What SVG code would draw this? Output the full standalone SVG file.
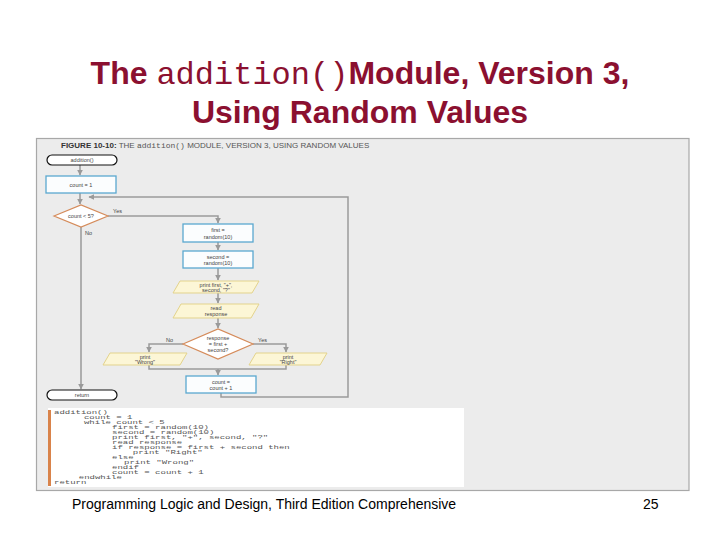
<svg xmlns="http://www.w3.org/2000/svg" width="720" height="540" viewBox="0 0 720 540">
<defs>
<style>
.title{font-family:"Liberation Sans",Arial,sans-serif;font-size:32px;font-weight:bold;fill:#8b1030}
.mono{font-family:"Liberation Mono","Courier New",monospace;font-weight:normal}
.foot{font-family:"Liberation Sans",Arial,sans-serif;font-size:14px;fill:#000}
.t{font-family:"Liberation Sans",Arial,sans-serif;font-size:5.5px;fill:#444;text-anchor:middle}
.lbl{font-family:"Liberation Sans",Arial,sans-serif;font-size:5.5px;fill:#444}
.cap{font-family:"Liberation Sans",Arial,sans-serif;font-size:8px;fill:#555}
.term{fill:#fff;stroke:#111;stroke-width:1.2}
.proc{fill:#fbfdfe;stroke:#5aa8cf;stroke-width:1.3}
.io{fill:#fcf6d6;stroke:#e3d38c;stroke-width:1}
.dec{fill:#fff;stroke:#d58b5a;stroke-width:1.2}
.ln{fill:none;stroke:#9a9a9a;stroke-width:1.5}
.code{font-family:"Liberation Mono","Courier New",monospace;font-size:6px;fill:#555}
</style>
<marker id="ah" viewBox="0 0 10 10" refX="9" refY="5" markerWidth="4" markerHeight="4" orient="auto-start-reverse">
<path d="M0,0 L10,5 L0,10 z" fill="#9a9a9a"/>
</marker>
</defs>
<rect width="720" height="540" fill="#fff"/>
<text class="title" x="360" y="84" text-anchor="middle">The <tspan class="mono">addition()</tspan>Module, Version 3,</text>
<text class="title" x="360" y="123" text-anchor="middle">Using Random Values</text>

<rect x="36.5" y="138.5" width="652.5" height="352" fill="#ececec" stroke="#a8a8a8" stroke-width="1.2"/>
<text class="cap" x="61" y="148"><tspan font-weight="bold" fill="#333">FIGURE 10-10:</tspan> THE <tspan class="mono">addition()</tspan> MODULE, VERSION 3, USING RANDOM VALUES</text>

<g id="connectors">
<line class="ln" x1="80" y1="165" x2="80" y2="175" marker-end="url(#ah)"/>
<line class="ln" x1="80" y1="193" x2="80" y2="204" marker-end="url(#ah)"/>
<polyline class="ln" points="108,216 218,216 218,223" marker-end="url(#ah)"/>
<line class="ln" x1="81" y1="227" x2="81" y2="389" marker-end="url(#ah)"/>
<line class="ln" x1="218" y1="242" x2="218" y2="250" marker-end="url(#ah)"/>
<line class="ln" x1="218" y1="268" x2="218" y2="280" marker-end="url(#ah)"/>
<line class="ln" x1="218" y1="293" x2="218" y2="303" marker-end="url(#ah)"/>
<line class="ln" x1="218" y1="318" x2="218" y2="328" marker-end="url(#ah)"/>
<polyline class="ln" points="183,344 149,344 149,352" marker-end="url(#ah)"/>
<polyline class="ln" points="253,344 286,344 286,352" marker-end="url(#ah)"/>
<polyline class="ln" points="149,365 149,369 286,369 286,365"/>
<line class="ln" x1="218" y1="369" x2="218" y2="375" marker-end="url(#ah)"/>
<polyline class="ln" points="221,393 221,397 348,397 348,197 89,197" marker-end="url(#ah)"/>
<text class="lbl" x="113" y="213">Yes</text>
<text class="lbl" x="85" y="235">No</text>
<text class="lbl" x="166" y="342">No</text>
<text class="lbl" x="258" y="342">Yes</text>
</g>

<g id="start">
<rect class="term" x="47" y="155" width="70" height="10" rx="5"/>
<text class="t" x="82" y="162">addition()</text>
</g>
<g id="init">
<rect class="proc" x="46" y="176" width="70" height="17"/>
<text class="t" x="81" y="186.5">count = 1</text>
</g>
<g id="loopTest">
<polygon class="dec" points="54,216 81,205 108,216 81,227"/>
<text class="t" x="81" y="218">count &lt; 5?</text>
</g>
<g id="first">
<rect class="proc" x="183" y="224" width="70" height="18"/>
<text class="t" x="218" y="232">first =</text>
<text class="t" x="218" y="238.5">random(10)</text>
</g>
<g id="second">
<rect class="proc" x="183" y="251" width="70" height="17"/>
<text class="t" x="218" y="258.5">second =</text>
<text class="t" x="218" y="265">random(10)</text>
</g>
<g id="printQ">
<polygon class="io" points="180,281 259,281 252,293 173,293"/>
<text class="t" x="216" y="286.5">print first, "+",</text>
<text class="t" x="216" y="292">second, "?"</text>
</g>
<g id="read">
<polygon class="io" points="181,304 259,304 251,318 173,318"/>
<text class="t" x="216" y="310">read</text>
<text class="t" x="216" y="316">response</text>
</g>
<g id="check">
<polygon class="dec" points="183,344 218,329 253,344 218,359"/>
<text class="t" x="218" y="340">response</text>
<text class="t" x="218" y="346">= first +</text>
<text class="t" x="218" y="352">second?</text>
</g>
<g id="wrong">
<polygon class="io" points="110,353 187,353 180,365 103,365"/>
<text class="t" x="145" y="358.5">print</text>
<text class="t" x="145" y="364">"Wrong"</text>
</g>
<g id="right">
<polygon class="io" points="256,353 327,353 320,365 249,365"/>
<text class="t" x="288" y="358.5">print</text>
<text class="t" x="288" y="364">"Right"</text>
</g>
<g id="increment">
<rect class="proc" x="186" y="376" width="70" height="17"/>
<text class="t" x="221" y="383.5">count =</text>
<text class="t" x="221" y="390">count + 1</text>
</g>
<g id="end">
<rect class="term" x="47" y="390" width="70" height="10" rx="5"/>
<text class="t" x="82" y="397">return</text>
</g>

<g id="pseudocode">
<rect x="48" y="408" width="416" height="79" fill="#fff"/>
<rect x="48" y="410" width="3" height="76" fill="#d9834a"/>
<g transform="scale(1.5,1)">
<text class="code" x="36" y="414">addition()</text>
<text class="code" x="56" y="419">count = 1</text>
<text class="code" x="56" y="424">while count &lt; 5</text>
<text class="code" x="74.7" y="429">first = random(10)</text>
<text class="code" x="74.7" y="434">second = random(10)</text>
<text class="code" x="74.7" y="439">print first, "+", second, "?"</text>
<text class="code" x="74.7" y="444">read response</text>
<text class="code" x="74.7" y="449">if response = first + second then</text>
<text class="code" x="88.5" y="454">print "Right"</text>
<text class="code" x="74.7" y="459">else</text>
<text class="code" x="82.7" y="464">print "Wrong"</text>
<text class="code" x="74.7" y="469">endif</text>
<text class="code" x="74.7" y="474">count = count + 1</text>
<text class="code" x="52.5" y="479">endwhile</text>
<text class="code" x="36" y="484">return</text>
</g>
</g>

<text class="foot" x="72" y="509">Programming Logic and Design, Third Edition Comprehensive</text>
<text class="foot" x="643" y="509">25</text>
</svg>
